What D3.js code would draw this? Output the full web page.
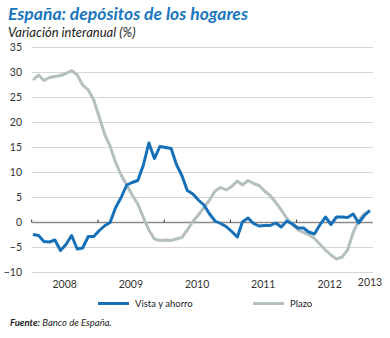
<!DOCTYPE html>
<html>
<head>
<meta charset="utf-8">
<script src="https://cdn.jsdelivr.net/npm/d3@7"></script>
<style>
  html, body { margin: 0; padding: 0; background: #fff; }
  svg { display: block; }
  text { font-family: Lato, "Open Sans", sans-serif; }
</style>
</head>
<body>
<svg id="chart" width="390" height="338"></svg>
<script>
// Monthly year-on-year change (%) from January 2008 to February 2013
const startYear = 2008;
const vistaAhorro = [
  -2.4, -2.6, -3.8, -3.9, -3.5, -5.6, -4.4, -2.6, -5.3, -5.1, -2.8, -2.8,
  -1.6, -0.6, 0.0, 3.0, 5.0, 7.5, 8.0, 8.4, 11.5, 15.9, 12.8, 15.2,
  15.0, 14.8, 11.7, 9.4, 6.4, 5.7, 4.5, 3.5, 1.7, 0.3, -0.2, -0.8,
  -1.8, -2.9, 0.1, 0.9, -0.2, -0.7, -0.6, -0.6, -0.1, -0.9, 0.3, -0.3,
  -1.1, -1.1, -1.9, -2.3, -0.5, 1.1, -0.4, 1.1, 1.1, 1.0, 1.7, -0.1,
  1.4, 2.4
];
const plazo = [
  28.5, 29.5, 28.4, 29.0, 29.2, 29.4, 29.8, 30.4, 29.5, 27.5, 26.5, 24.5,
  21.0, 17.5, 15.3, 12.0, 9.5, 7.5, 5.5, 3.7, 1.0, -1.5, -3.3, -3.6,
  -3.5, -3.6, -3.3, -3.0, -1.5, 0.2, 1.5, 3.0, 4.5, 6.3, 7.0, 6.5,
  7.2, 8.3, 7.5, 8.4, 7.8, 7.4, 6.3, 5.4, 4.0, 2.5, 0.8, -0.3,
  -1.5, -2.0, -2.4, -3.2, -4.3, -5.5, -6.5, -7.3, -6.9, -5.5, -2.0, 0.3,
  1.7, 2.4
];
const yTicks = [-10, -5, 0, 5, 10, 15, 20, 25, 30, 35];
const yearLabels = ["2008", "2009", "2010", "2011", "2012", "2013"];
const seriesNames = ["Vista y ahorro", "Plazo"];
const seriesColors = ["#1570b8", "#b4c0bf"];

const svg = d3.select("#chart");

const x = d3.scaleTime()
  .domain([new Date(2008, 0, 1), new Date(2013, 0, 1)])
  .range([31.7, 363]);
const plotRight = 373;
const y = d3.scaleLinear().domain([-10, 35]).range([272.5, 47.5]);

const dateOf = i => new Date(startYear, i, 8);

// Title and subtitle
svg.append("text").attr("x", 8).attr("y", 20)
  .attr("fill", "#1a76bd").attr("font-size", 17.5).attr("font-weight", 700)
  .attr("font-style", "italic").text("España: depósitos de los hogares");
svg.append("text").attr("x", 8).attr("y", 37)
  .attr("fill", "#222").attr("font-size", 13).attr("font-style", "italic")
  .text("Variación interanual (%)");

// Horizontal gridlines
svg.append("g").selectAll("line").data(yTicks.filter(d => d !== 0)).join("line")
  .attr("x1", x.range()[0]).attr("x2", plotRight)
  .attr("y1", d => y(d)).attr("y2", d => y(d))
  .attr("stroke", "#d6d6d6").attr("stroke-width", 1);

// Y axis labels
const yAxis = d3.axisLeft(y).tickValues(yTicks).tickSize(0).tickPadding(0);
const gy = svg.append("g").attr("transform", "translate(22,0)").call(yAxis);
gy.select(".domain").remove();
gy.selectAll("text").attr("font-size", 10.5).attr("fill", "#333")
  .attr("font-family", "Lato, sans-serif");

// Zero line with yearly ticks
svg.append("line").attr("x1", x.range()[0]).attr("x2", plotRight)
  .attr("y1", y(0)).attr("y2", y(0)).attr("stroke", "#8a8a8a").attr("stroke-width", 1.6);
const yearStarts = d3.range(2008, 2013).map(yr => new Date(yr, 0, 1));
svg.append("g").selectAll("line").data(yearStarts).join("line")
  .attr("x1", d => x(d)).attr("x2", d => x(d))
  .attr("y1", y(0) - 3).attr("y2", y(0)).attr("stroke", "#333").attr("stroke-width", 1);

// Year labels centred on each year
svg.append("g").selectAll("text").data(yearLabels).join("text")
  .attr("x", d => Math.min(x(new Date(+d, 6, 1)), plotRight - 3))
  .attr("y", (d, i) => i === yearLabels.length - 1 ? 286 : 288)
  .attr("text-anchor", "middle").attr("font-size", 10.5).attr("fill", "#333")
  .text(d => d);

// Series lines
const line = d3.line().x((d, i) => x(dateOf(i))).y(d => y(d)).curve(d3.curveLinear);
[plazo, vistaAhorro].forEach((s, k) => {
  svg.append("path").datum(s)
    .attr("fill", "none").attr("stroke", seriesColors[1 - k])
    .attr("stroke-width", 3).attr("stroke-linejoin", "round")
    .attr("d", line);
});

// Legend
const legendX = [98, 253];
const legend = svg.append("g").selectAll("g").data(seriesNames).join("g")
  .attr("transform", (d, i) => `translate(${legendX[i]},303.5)`);
legend.append("line").attr("x1", 0).attr("x2", 31).attr("y1", 0).attr("y2", 0)
  .attr("stroke", (d, i) => seriesColors[i]).attr("stroke-width", 3);
legend.append("text").attr("x", 37).attr("y", 3.5).attr("font-size", 9.5)
  .attr("fill", "#222").text(d => d);

// Source note
const src = svg.append("text").attr("x", 10).attr("y", 326)
  .attr("font-size", 9.5).attr("font-style", "italic").attr("fill", "#222");
src.append("tspan").attr("font-weight", 700).text("Fuente:");
src.append("tspan").text(" Banco de España.");
</script>
</body>
</html>
